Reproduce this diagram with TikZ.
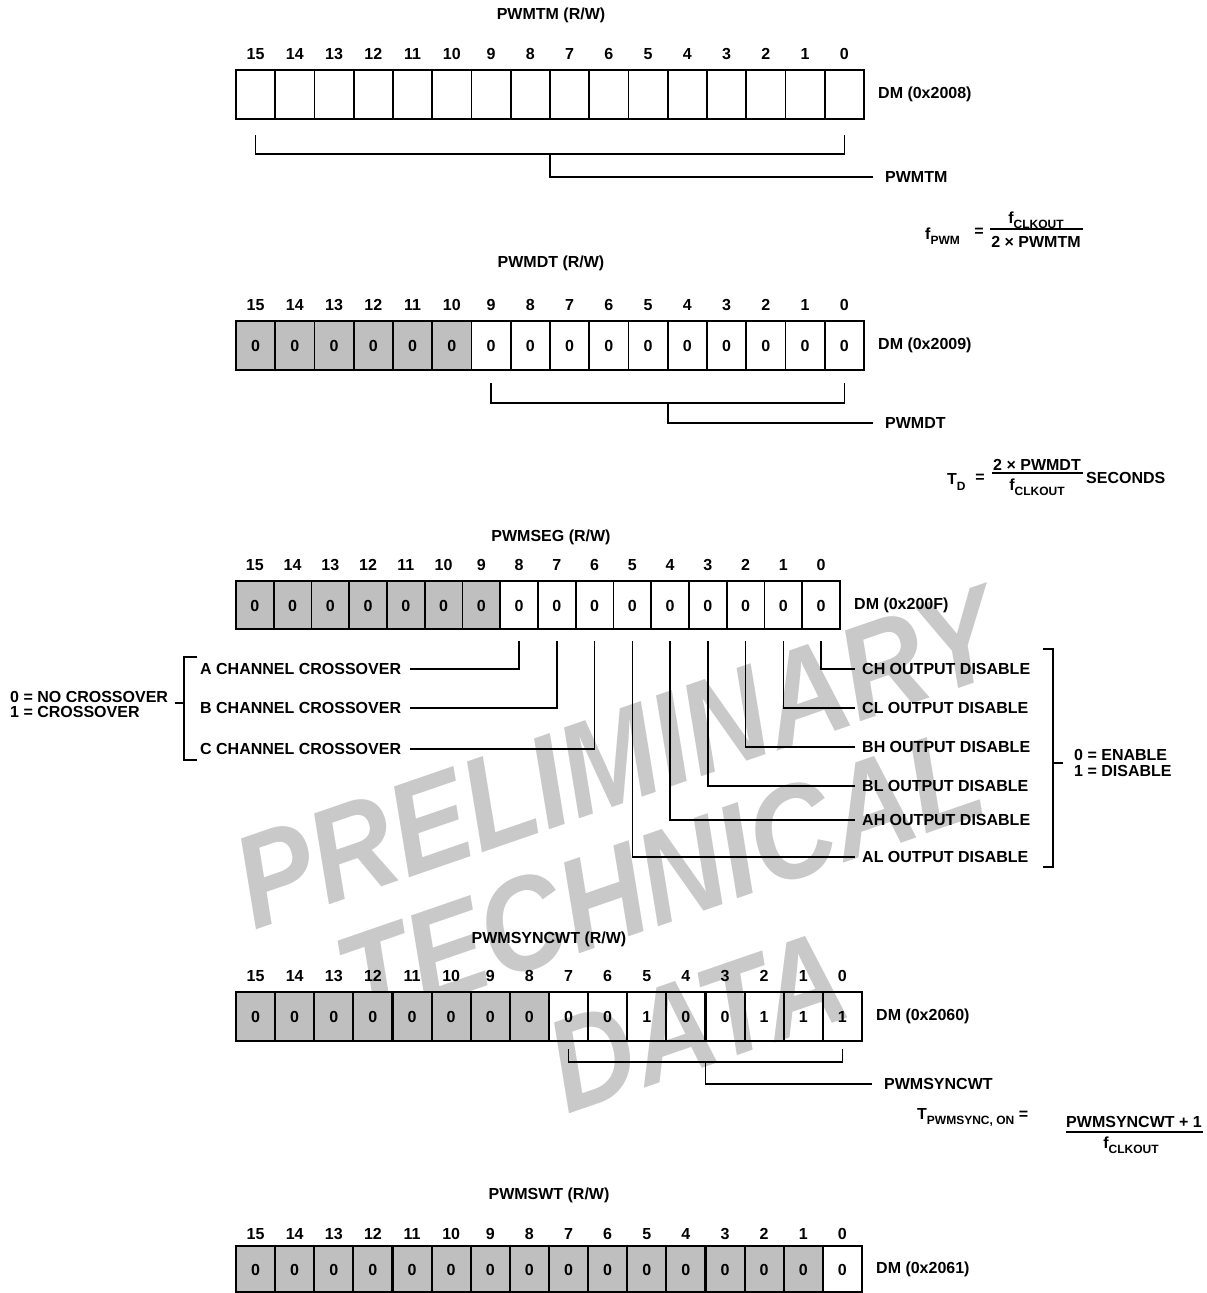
\documentclass[tikz,border=0pt]{standalone}
\usepackage{fontspec}
\setmainfont{Liberation Sans}
\usetikzlibrary{calc}
\definecolor{cellgray}{gray}{0.75}
\definecolor{wmgray}{gray}{0.79}
\newcommand\mysub[1]{\raisebox{-0.32em}{\fontsize{12}{12}\selectfont #1}}
\tikzset{
  cellline/.style={line width=1.8pt},
  nibble/.style={line width=2.8pt},
  conn/.style={line width=1.6pt},
  brk/.style={line width=1.4pt},
  txt/.style={font=\fontsize{16}{16}\selectfont\bfseries, inner sep=0pt},
  wm/.style={font=\fontsize{132}{132}\selectfont\bfseries\itshape, text=wmgray, inner sep=0pt, rotate=19, xscale=0.88},
}
% #1 name #2 left #3 right #4 top #5 bottom #6 number of gray cells #7 y of bit numbers #8 DM label
\newcommand\drawreg[8]{%
  \pgfmathsetmacro\cw{(#3-#2)/16}%
  \ifnum#6>0 \fill[cellgray] (#2,#4) rectangle ({#2+#6*\cw},#5);\fi
  \foreach \k in {1,...,15}{%
    \pgfmathtruncatemacro\m{mod(\k,4)}%
    \ifnum\m=0 \draw[nibble] ({#2+\k*\cw},#4) -- ({#2+\k*\cw},#5);%
    \else \draw[cellline] ({#2+\k*\cw},#4) -- ({#2+\k*\cw},#5);\fi
  }%
  \draw[cellline] (#2,#4) rectangle (#3,#5);%
  \foreach \c in {0,...,15}{%
    \pgfmathtruncatemacro\b{15-\c}%
    \node[txt] (#1n\b) at ({#2+(\c+0.5)*\cw},#7) {\b};%
  }%
  \node[txt,anchor=west] (#1dm) at ({#3+14},{(#4+#5)/2}) {#8};%
}
% #1 name #2 left #3 right #4 y #5 values bit15..bit0
\newcommand\regvals[5]{%
  \pgfmathsetmacro\cw{(#3-#2)/16}%
  \foreach \v [count=\c from 0] in {#5}{%
    \pgfmathtruncatemacro\b{15-\c}%
    \node[txt] (#1v\b) at ({#2+(\c+0.5)*\cw},#4) {\v};}%
}
\begin{document}
\begin{tikzpicture}[x=1pt,y=-1pt]
\path[use as bounding box] (0,0) rectangle (1207,1293);

% watermark
\node[wm] (wm1) at (617,758) {PRELIMINARY};
\node[wm] (wm2) at (660,878) {TECHNICAL};
\node[wm] (wm3) at (697,1022) {DATA};

% ---------- PWMTM ----------
\node[txt] (tmtitle) at (551,15) {PWMTM (R/W)};
\drawreg{tm}{236}{864}{70}{119}{0}{54}{DM (0x2008)}
\coordinate (tmmid) at ($(tmn15)!0.5!(tmn0)$);
\draw[conn] (tmn15 |- 0,135) -- (tmn15 |- 0,154) -- (tmn0 |- 0,154) -- (tmn0 |- 0,135);
\node[txt,anchor=west] (tmlab) at (885,177) {PWMTM};
\draw[conn] (tmmid |- 0,154) |- ([xshift=-12pt]tmlab.west);

% formula 1
\node[txt,anchor=west] (f1l) at (925,236) {f\mysub{PWM}};
\node[txt] (f1eq) at (979,232) {=};
\node[txt] (f1n) at (1036,220) {f\mysub{CLKOUT}};
\node[txt] (f1d) at (1036,242) {2 × PWMTM};
\draw[conn] (990,229) -- (1083,229);

% ---------- PWMDT ----------
\node[txt] (dttitle) at (551,263) {PWMDT (R/W)};
\drawreg{dt}{236}{864}{321}{370}{6}{305}{DM (0x2009)}
\regvals{dt}{236}{864}{346}{0,0,0,0,0,0,0,0,0,0,0,0,0,0,0,0}
\coordinate (dtmid) at ($(dtn9)!0.5!(dtn0)$);
\draw[conn] (dtn9 |- 0,383) -- (dtn9 |- 0,403) -- (dtn0 |- 0,403) -- (dtn0 |- 0,383);
\node[txt,anchor=west] (dtlab) at (885,423) {PWMDT};
\draw[conn] (dtmid |- 0,403) |- ([xshift=-12pt]dtlab.west);

% formula 2
\node[txt,anchor=west] (f2l) at (947,482) {T\mysub{D}};
\node[txt] (f2eq) at (980,478) {=};
\node[txt] (f2n) at (1037,465) {2 × PWMDT};
\node[txt] (f2d) at (1037,487) {f\mysub{CLKOUT}};
\draw[conn] (992,473) -- (1083,473);
\node[txt,anchor=west] (f2s) at (1086,478) {SECONDS};

% ---------- PWMSEG ----------
\node[txt] (sgtitle) at (551,537) {PWMSEG (R/W)};
\drawreg{sg}{236}{840}{581}{629}{7}{565}{DM (0x200F)}
\regvals{sg}{236}{840}{606}{0,0,0,0,0,0,0,0,0,0,0,0,0,0,0,0}

\node[txt,anchor=west] (ach) at (200,669) {A CHANNEL CROSSOVER};
\node[txt,anchor=west] (bch) at (200,708) {B CHANNEL CROSSOVER};
\node[txt,anchor=west] (cch) at (200,749) {C CHANNEL CROSSOVER};
\draw[conn] (sgv8 |- 0,641) |- ([xshift=9pt]ach.east);
\draw[conn] (sgv7 |- 0,641) |- ([xshift=9pt]bch.east);
\draw[conn] (sgv6 |- 0,641) |- ([xshift=9pt]cch.east);

\node[txt,anchor=west] (chd) at (862,669) {CH OUTPUT DISABLE};
\node[txt,anchor=west] (cld) at (862,708) {CL OUTPUT DISABLE};
\node[txt,anchor=west] (bhd) at (862,747) {BH OUTPUT DISABLE};
\node[txt,anchor=west] (bld) at (862,786) {BL OUTPUT DISABLE};
\node[txt,anchor=west] (ahd) at (862,820) {AH OUTPUT DISABLE};
\node[txt,anchor=west] (ald) at (862,857) {AL OUTPUT DISABLE};
\draw[conn] (sgv0 |- 0,641) |- ([xshift=-7pt]chd.west);
\draw[conn] (sgv1 |- 0,641) |- ([xshift=-7pt]cld.west);
\draw[conn] (sgv2 |- 0,641) |- ([xshift=-7pt]bhd.west);
\draw[conn] (sgv3 |- 0,641) |- ([xshift=-7pt]bld.west);
\draw[conn] (sgv4 |- 0,641) |- ([xshift=-7pt]ahd.west);
\draw[conn] (sgv5 |- 0,641) |- ([xshift=-7pt]ald.west);

% left bracket
\coordinate (lbt) at (197,657);
\coordinate (lbb) at (197,760);
\coordinate (lbm) at (184,703);
\draw[brk] (lbt) -- (184,657) -- (184,760) -- (lbb);
\draw[brk] (lbm) -- ++(-9,0) coordinate (lbtip);
\node[txt,anchor=west,align=left,font=\fontsize{16}{15}\selectfont\bfseries] (crossdef) at (10,704) {0 = NO CROSSOVER\\1 = CROSSOVER};

% right bracket
\coordinate (rbt) at (1043,649);
\coordinate (rbb) at (1043,867);
\coordinate (rbm) at (1053,763);
\draw[brk] (rbt) -- (1053,649) -- (1053,867) -- (rbb);
\draw[brk] (rbm) -- ++(10,0) coordinate (rbtip);
\node[txt,anchor=west,align=left,font=\fontsize{16}{16}\selectfont\bfseries] (endef) at (1074,763) {0 = ENABLE\\1 = DISABLE};

% ---------- PWMSYNCWT ----------
\node[txt] (sytitle) at (549,939) {PWMSYNCWT (R/W)};
\drawreg{sy}{236}{862}{992}{1041}{8}{976}{DM (0x2060)}
\regvals{sy}{236}{862}{1017}{0,0,0,0,0,0,0,0,0,0,1,0,0,1,1,1}
\coordinate (symid) at ($(syn7)!0.5!(syn0)$);
\draw[conn] (syn7 |- 0,1049) -- (syn7 |- 0,1062) -- (syn0 |- 0,1062) -- (syn0 |- 0,1049);
\node[txt,anchor=west] (sylab) at (884,1084) {PWMSYNCWT};
\draw[conn] (symid |- 0,1062) |- ([xshift=-12pt]sylab.west);

% formula 3
\node[txt,anchor=west] (f3l) at (917,1117) {T\mysub{PWMSYNC, ON} =};
\node[txt] (f3n) at (1134,1122) {PWMSYNCWT + 1};
\node[txt] (f3d) at (1131,1145) {f\mysub{CLKOUT}};
\draw[conn] (1066,1132) -- (1203,1132);

% ---------- PWMSWT ----------
\node[txt] (swtitle) at (549,1195) {PWMSWT (R/W)};
\drawreg{sw}{236}{862}{1246}{1292}{15}{1234}{DM (0x2061)}
\regvals{sw}{236}{862}{1270}{0,0,0,0,0,0,0,0,0,0,0,0,0,0,0,0}
\end{tikzpicture}
\end{document}
